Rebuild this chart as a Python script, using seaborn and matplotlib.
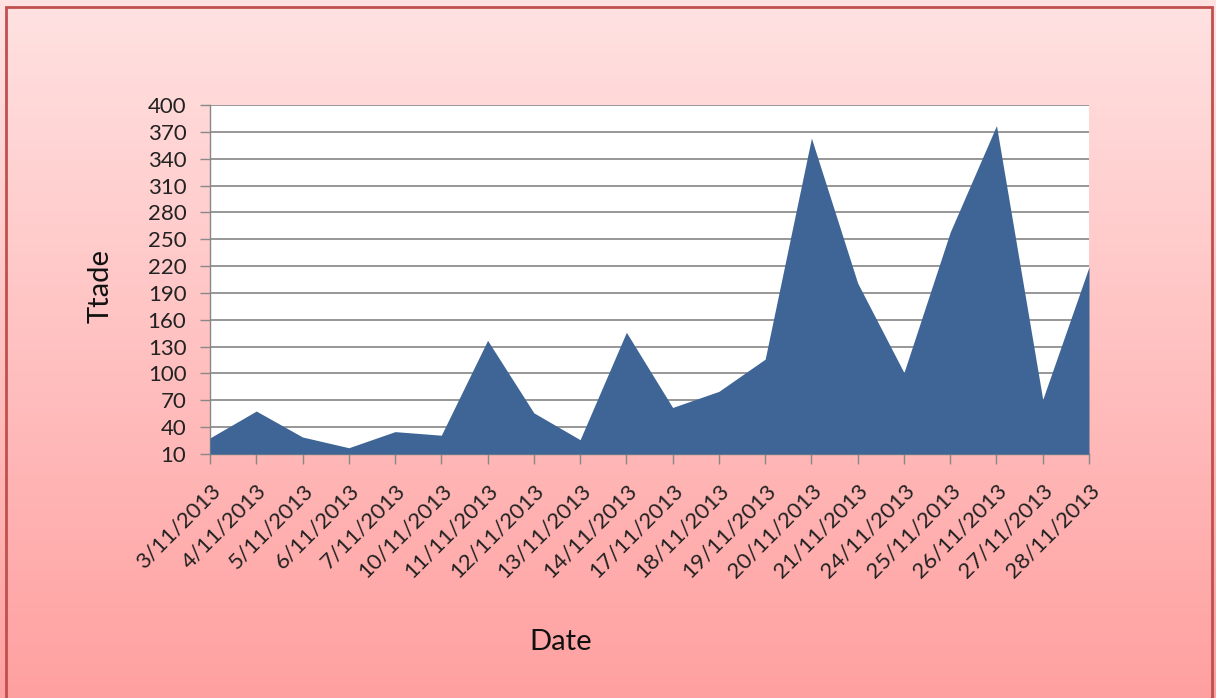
import matplotlib
matplotlib.use("Agg")
import matplotlib.pyplot as plt
import seaborn as sns
import numpy as np
import pandas as pd
from matplotlib.patches import Rectangle

# Chart data
dates = ["3/11/2013", "4/11/2013", "5/11/2013", "6/11/2013", "7/11/2013",
         "10/11/2013", "11/11/2013", "12/11/2013", "13/11/2013", "14/11/2013",
         "17/11/2013", "18/11/2013", "19/11/2013", "20/11/2013", "21/11/2013",
         "24/11/2013", "25/11/2013", "26/11/2013", "27/11/2013", "28/11/2013"]
ttade = [28, 58, 29, 17, 35, 31, 137, 56, 26, 146,
         62, 80, 116, 363, 201, 101, 258, 377, 71, 219]
y_ticks = list(range(10, 401, 30))

df = pd.DataFrame({"Date": dates, "Ttade": ttade})
df["pos"] = np.arange(len(df))

sns.set_theme(style="white")
plt.rcParams["font.family"] = ["Lato", "DejaVu Sans"]

fig = plt.figure(figsize=(12.16, 6.98), dpi=100)

# gradient background for the chart area
bg = fig.add_axes([0, 0, 1, 1], zorder=-10)
grad = np.linspace(0, 1, 256).reshape(-1, 1)
top = np.array([255, 226, 226]) / 255
bottom = np.array([255, 160, 160]) / 255
img = top + (bottom - top) * grad[:, :, None]
bg.imshow(np.repeat(img, 2, axis=1), aspect="auto", extent=[0, 1, 0, 1])
bg.set_xlim(0, 1)
bg.set_ylim(0, 1)
bg.axis("off")
fig.patches.append(Rectangle((6 / 1216, -0.01), 1206 / 1216, 1 - 7 / 698 + 0.01,
                             transform=fig.transFigure, fill=False,
                             edgecolor="#c0504d", linewidth=2))

ax = fig.add_axes([210 / 1216, 1 - 454 / 698, 879 / 1216, 349 / 698])
ax.set_facecolor("white")
sns.lineplot(data=df, x="pos", y="Ttade", ax=ax, color="#3e6595", linewidth=0)
ax.fill_between(df["pos"], 10, df["Ttade"], color="#3e6595", linewidth=0, zorder=3)

ax.set_xlim(0, len(df) - 1)
ax.set_ylim(10, 400)
ax.set_yticks(y_ticks)
ax.set_xticks(df["pos"])
ax.set_xticklabels(dates, rotation=45, ha="right", rotation_mode="anchor")
ax.tick_params(axis="both", labelsize=16, colors="#222222", length=7,
               width=1, direction="out", color="#888888",
               bottom=True, left=True)
ax.tick_params(axis="y", pad=10)
ax.tick_params(axis="x", pad=12)
ax.grid(axis="y", color="#8f8f8f", linewidth=1.3, zorder=0)
ax.set_axisbelow(True)
for side in ["top", "right"]:
    ax.spines[side].set_visible(False)
for side in ["left", "bottom"]:
    ax.spines[side].set_color("#888888")
    ax.spines[side].set_linewidth(1)

ax.set_xlabel("Date", fontsize=21, color="#111111")
ax.set_ylabel("Ttade", fontsize=21, color="#111111")
ax.xaxis.set_label_coords(0.399, -0.50)
ax.yaxis.set_label_coords(-0.11, 0.48)

fig.savefig("out.png", dpi=100)
